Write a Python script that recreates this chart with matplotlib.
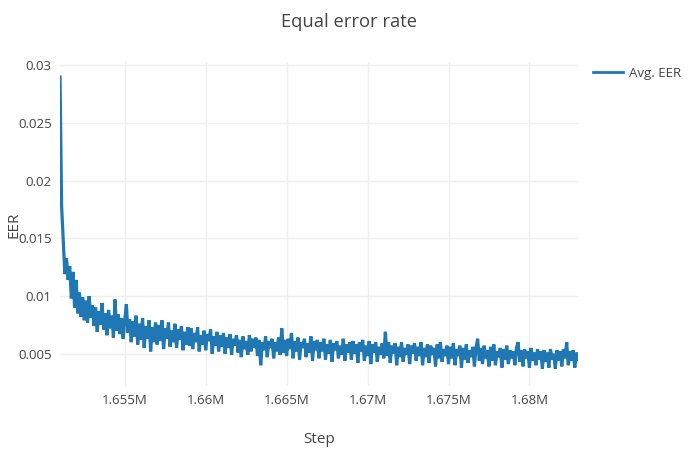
import numpy as np
import matplotlib
matplotlib.use("Agg")
import matplotlib.pyplot as plt

# Training steps (one logged point every 100 steps)
step_start = 1651000
step_interval = 100

# Avg. EER values
eer = [
    # 1.651M - 1.6529M
    0.0290, 0.0178, 0.0148, 0.0119, 0.0133, 0.0114, 0.0126, 0.0098, 0.0121, 0.0090,
    0.0114, 0.0085, 0.0103, 0.0082, 0.0099, 0.0079, 0.0096, 0.0077, 0.0100, 0.0081,
    # 1.653M
    0.0092, 0.0074, 0.0090, 0.0069, 0.0087, 0.0075, 0.0094, 0.0071, 0.0085, 0.0066,
    0.0088, 0.0072, 0.0083, 0.0064, 0.0097, 0.0070, 0.0084, 0.0067, 0.0081, 0.0063,
    # 1.655M
    0.0079, 0.0093, 0.0068, 0.0080, 0.0060, 0.0078, 0.0065, 0.0083, 0.0058, 0.0076,
    0.0062, 0.0081, 0.0055, 0.0074, 0.0063, 0.0079, 0.0052, 0.0073, 0.0060, 0.0077,
    # 1.657M
    0.0058, 0.0075, 0.0061, 0.0079, 0.0054, 0.0072, 0.0063, 0.0077, 0.0056, 0.0070,
    0.0060, 0.0076, 0.0055, 0.0071, 0.0062, 0.0074, 0.0053, 0.0069, 0.0058, 0.0073,
    # 1.659M
    0.0057, 0.0072, 0.0054, 0.0068, 0.0060, 0.0073, 0.0052, 0.0066, 0.0058, 0.0070,
    0.0053, 0.0067, 0.0061, 0.0071, 0.0050, 0.0065, 0.0057, 0.0069, 0.0052, 0.0066,
    # 1.661M
    0.0056, 0.0068, 0.0050, 0.0064, 0.0055, 0.0067, 0.0049, 0.0063, 0.0057, 0.0066,
    0.0051, 0.0062, 0.0047, 0.0065, 0.0054, 0.0061, 0.0049, 0.0066, 0.0052, 0.0063,
    # 1.663M
    0.0055, 0.0064, 0.0048, 0.0062, 0.0040, 0.0060, 0.0053, 0.0065, 0.0047, 0.0061,
    0.0055, 0.0063, 0.0046, 0.0060, 0.0052, 0.0064, 0.0049, 0.0072, 0.0051, 0.0062,
    # 1.665M
    0.0048, 0.0063, 0.0054, 0.0068, 0.0046, 0.0061, 0.0052, 0.0064, 0.0045, 0.0060,
    0.0055, 0.0063, 0.0047, 0.0059, 0.0051, 0.0065, 0.0044, 0.0061, 0.0053, 0.0062,
    # 1.667M
    0.0046, 0.0060, 0.0052, 0.0063, 0.0045, 0.0058, 0.0050, 0.0062, 0.0043, 0.0059,
    0.0053, 0.0061, 0.0046, 0.0057, 0.0049, 0.0063, 0.0044, 0.0058, 0.0051, 0.0060,
    # 1.669M
    0.0045, 0.0061, 0.0050, 0.0058, 0.0042, 0.0060, 0.0052, 0.0062, 0.0044, 0.0057,
    0.0048, 0.0061, 0.0041, 0.0058, 0.0051, 0.0060, 0.0043, 0.0056, 0.0049, 0.0059,
    # 1.671M
    0.0046, 0.0069, 0.0048, 0.0060, 0.0042, 0.0057, 0.0050, 0.0059, 0.0040, 0.0056,
    0.0047, 0.0060, 0.0043, 0.0055, 0.0049, 0.0058, 0.0041, 0.0057, 0.0050, 0.0059,
    # 1.673M
    0.0044, 0.0056, 0.0048, 0.0060, 0.0040, 0.0055, 0.0047, 0.0058, 0.0042, 0.0057,
    0.0049, 0.0055, 0.0039, 0.0058, 0.0046, 0.0060, 0.0043, 0.0054, 0.0048, 0.0057,
    # 1.675M
    0.0041, 0.0056, 0.0046, 0.0059, 0.0040, 0.0054, 0.0048, 0.0057, 0.0038, 0.0055,
    0.0045, 0.0058, 0.0042, 0.0053, 0.0047, 0.0056, 0.0039, 0.0055, 0.0063, 0.0044,
    # 1.677M
    0.0055, 0.0041, 0.0057, 0.0046, 0.0053, 0.0039, 0.0056, 0.0044, 0.0058, 0.0040,
    0.0052, 0.0047, 0.0055, 0.0038, 0.0054, 0.0045, 0.0057, 0.0041, 0.0053, 0.0046,
    # 1.679M
    0.0052, 0.0040, 0.0055, 0.0060, 0.0043, 0.0053, 0.0039, 0.0054, 0.0046, 0.0052,
    0.0038, 0.0055, 0.0044, 0.0051, 0.0040, 0.0054, 0.0045, 0.0052, 0.0037, 0.0053,
    # 1.681M - 1.683M
    0.0043, 0.0051, 0.0038, 0.0054, 0.0045, 0.0050, 0.0037, 0.0053, 0.0044, 0.0052,
    0.0039, 0.0054, 0.0046, 0.0060, 0.0040, 0.0052, 0.0044, 0.0053, 0.0038, 0.0051,
    0.0045,
]
steps = step_start + step_interval * np.arange(len(eer))

x_ticks = [1655000, 1660000, 1665000, 1670000, 1675000, 1680000]
x_tick_labels = ["1.655M", "1.66M", "1.665M", "1.67M", "1.675M", "1.68M"]
y_ticks = [0.005, 0.01, 0.015, 0.02, 0.025, 0.03]
y_tick_labels = ["0.005", "0.01", "0.015", "0.02", "0.025", "0.03"]

plt.rcParams['font.family'] = ['Open Sans', 'DejaVu Sans']
TXT = '#444444'

fig = plt.figure(figsize=(7, 4.5), dpi=100)
W, H = 700, 450
ax = fig.add_axes([60 / W, 1 - 386 / H, (578 - 60) / W, (386 - 62) / H])

ax.plot(steps, eer, color='#1f77b4', linewidth=2.3, label='Avg. EER',
        solid_joinstyle='miter')

ax.set_xlim(steps[0], steps[-1])
ax.set_ylim(0.0022, 0.0303)
ax.set_xticks(x_ticks)
ax.set_xticklabels(x_tick_labels)
ax.set_yticks(y_ticks)
ax.set_yticklabels(y_tick_labels)
ax.tick_params(axis='both', length=0, labelsize=9.5, colors=TXT, pad=6)
ax.grid(True, color='#eeeeee', linewidth=1)
ax.set_axisbelow(True)
for s in ax.spines.values():
    s.set_visible(False)

ax.set_xlabel('Step', fontsize=11, color=TXT, labelpad=18)
ax.set_ylabel('EER', fontsize=11, color=TXT)
ax.yaxis.set_label_coords(14 / W, 0.5, transform=fig.transFigure)
ax.yaxis.label.set_va('center')

fig.text(349 / W, 1 - 22 / H, 'Equal error rate', ha='center', va='center',
         fontsize=13.2, color=TXT)

ax.legend(loc='upper left', bbox_to_anchor=(593 / W, 1 - 67 / H),
          bbox_transform=fig.transFigure, frameon=False, borderpad=0,
          borderaxespad=0, handlelength=2.3, handletextpad=0.4,
          fontsize=9.5, labelcolor=TXT)
ax.get_legend().get_lines()[0].set_linewidth(2)

fig.savefig('out.png', dpi=100)
